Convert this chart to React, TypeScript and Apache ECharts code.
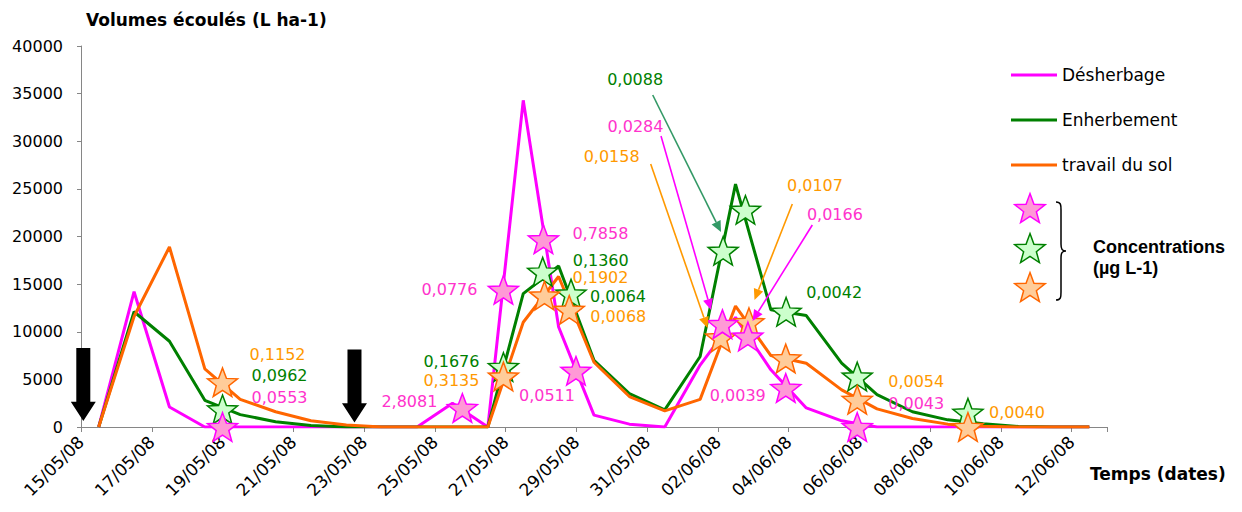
import React, { useEffect, useRef } from 'react';
import * as echarts from 'echarts';

// ---------- DATA ----------
const dates = [
  '15/05/08', '16/05/08', '17/05/08', '18/05/08', '19/05/08', '20/05/08', '21/05/08', '22/05/08',
  '23/05/08', '24/05/08', '25/05/08', '26/05/08', '27/05/08', '28/05/08', '29/05/08', '30/05/08',
  '31/05/08', '01/06/08', '02/06/08', '03/06/08', '04/06/08', '05/06/08', '06/06/08', '07/06/08',
  '08/06/08', '09/06/08', '10/06/08', '11/06/08', '12/06/08',
];

// Volumes écoulés (L ha-1), one value per day
const desherbage = [0, 14200, 2100, 0, 0, 0, 0, 0, 0, 0, 2500, 0, 34300, 10500, 1250, 300, 0, 6500, 11500, 6000, 2000, 650, 0, 0, 0, 0, 0, 0, 0];
const enherbement = [0, 12100, 9000, 2800, 1300, 550, 150, 0, 0, 0, 0, 0, 14000, 16900, 7000, 3500, 1800, 7400, 25500, 12300, 11700, 6700, 3400, 1600, 750, 350, 50, 0, 0];
const travailDuSol = [0, 11600, 18900, 6100, 2900, 1600, 650, 200, 0, 0, 0, 0, 11000, 15800, 6800, 3200, 1700, 2900, 12700, 7500, 6700, 3900, 1900, 900, 300, 80, 0, 0, 0];

// Samples: time in days since 15/05/08 00:00, volume at sampling, concentration (µg L-1)
const desherbageSampleDays = [4.0, 10.78, 11.94, 13.07, 13.99, 18.13, 18.85, 19.92, 21.94];
const desherbageSampleVolumes = [0, 2000, 14400, 19700, 5900, 10800, 9500, 4100, 0];
const desherbageConc = ['0,0553', '2,8081', '0,0776', '0,7858', '0,0511', '0,0284', '0,0166', '0,0039', '0,0043'];

const enherbementSampleDays = [4.0, 11.94, 13.05, 13.85, 18.15, 18.78, 19.93, 21.94, 25.07];
const enherbementSampleVolumes = [1850, 6300, 16300, 14000, 18500, 22800, 12100, 5300, 1500];
const enherbementConc = ['0,0962', '0,1676', '0,1360', '0,0064', '0,0088', '', '0,0042', '', ''];

const travailSampleDays = [4.0, 11.94, 13.1, 13.8, 18.08, 18.88, 19.92, 21.94, 25.07];
const travailSampleVolumes = [4700, 5300, 13800, 12300, 9400, 11000, 7200, 2850, 0];
const travailConc = ['0,1152', '0,3135', '0,1902', '0,0068', '0,0158', '0,0107', '', '0,0054', '0,0040'];

// Treatment dates (days since 15/05/08 00:00)
const treatmentDays = [0.065, 7.73];
const treatmentMarkerLevel = [4450, 4300];

// ---------- LAYOUT / STYLE ----------
const desherbageLabelOffsets = [[57, -30], [-53, -6], [-54, 0], [57, -6], [-29, 25], [-87, -198], [87, -122], [-48, 8], [59, -24]];
const enherbementLabelOffsets = [[57, -34], [-52, -5], [58, -11], [47, 3], [-88, -171], [0, 0], [48, -19], [0, 0], [0, 0]];
const travailLabelOffsets = [[55, -28], [-52, 4], [56, -18], [49, 7], [-109, -181], [66, -137], [0, 0], [59, -18], [49, -15]];

const annotationArrows = [
  { from: [652.7, 95], to: [721, 232], color: '#339966' },
  { from: [661, 136], to: [711, 310], color: '#FF00FF' },
  { from: [650.7, 164], to: [707.5, 328], color: '#FF9900' },
  { from: [792.3, 204], to: [754.5, 300], color: '#FF9900' },
  { from: [812.3, 225], to: [752.5, 321], color: '#FF00FF' },
];

const STAR = 'path://M50,0L62.34,33.01L97.55,34.55L69.97,56.49L79.39,90.45L50,71L20.61,90.45L30.03,56.49L2.45,34.55L37.66,33.01Z';
const ARROW = 'path://M5.5,0H19.5V53H25L12.5,72L0,53H5.5Z';
const FONT = 'DejaVu Sans';

const MAG = '#FF00FF';
const GRN = '#008000';
const ORG = '#FF6600';

function starPoints(cx: number, cy: number, R: number, r: number) {
  const pts: number[][] = [];
  for (let k = 0; k < 10; k++) {
    const a = (k * Math.PI) / 5;
    const rad = k % 2 === 0 ? R : r;
    pts.push([cx + rad * Math.sin(a), cy - rad * Math.cos(a) + R * 0.1]);
  }
  return pts;
}

function arrowGraphics() {
  const els: any[] = [];
  annotationArrows.forEach((a) => {
    const [x1, y1] = a.from;
    const [x2, y2] = a.to;
    const dx = x2 - x1, dy = y2 - y1;
    const len = Math.sqrt(dx * dx + dy * dy);
    const ux = dx / len, uy = dy / len;
    const L = 11, W = 5;
    const bx = x2 - ux * L, by = y2 - uy * L;
    els.push({
      type: 'line', silent: true, z: 20,
      shape: { x1, y1, x2: bx, y2: by },
      style: { stroke: a.color, lineWidth: 1.6 },
    });
    els.push({
      type: 'polygon', silent: true, z: 20,
      shape: { points: [[x2, y2], [bx - uy * W, by + ux * W], [bx + uy * W, by - ux * W]] },
      style: { fill: a.color },
    });
  });
  return els;
}

function starSeries(name: string, days: number[], vols: number[], conc: string[], offsets: number[][], fill: string, stroke: string, labelColor: string, z: number) {
  return {
    name,
    type: 'scatter',
    xAxisIndex: 1,
    yAxisIndex: 0,
    symbol: STAR,
    symbolSize: 30,
    symbolKeepAspect: true,
    silent: true,
    z,
    itemStyle: { color: fill, borderColor: stroke, borderWidth: 1.5, opacity: 1 },
    label: {
      show: true,
      position: 'inside',
      color: labelColor,
      fontFamily: FONT,
      fontSize: 16,
      formatter: (p: any) => conc[p.dataIndex],
    },
    data: days.map((d, i) => ({
      value: [d, vols[i]],
      label: { show: conc[i] !== '', offset: offsets[i] },
    })),
  };
}

export default function App() {
  const ref = useRef<HTMLDivElement>(null);
  useEffect(() => {
    if (!ref.current) return;
    echarts.graphic.registerShape(
      'brace',
      echarts.graphic.extendPath('M0,0 C5,0 5,3 5,8 L5,42 C5,47 6,49 10,49 C6,49 5,51 5,56 L5,90 C5,95 5,98 0,98', {})
    );
    const chart = echarts.init(ref.current, undefined, { renderer: 'svg' });
    const axisColor = '#868686';
    const option: any = {
      animation: false,
      backgroundColor: '#ffffff',
      grid: { left: 81, right: 135, top: 46, bottom: 85, containLabel: false },
      legend: {
        orient: 'vertical',
        left: 1006,
        top: 60,
        itemWidth: 46,
        itemHeight: 3,
        itemGap: 25,
        icon: 'rect',
        selectedMode: false,
        textStyle: { fontFamily: FONT, fontSize: 17, color: '#000', lineHeight: 20 },
        data: ['Désherbage', 'Enherbement', 'travail du sol'],
      },
      xAxis: [
        {
          type: 'category',
          position: 'bottom',
          data: dates,
          boundaryGap: true,
          axisLine: { show: true, lineStyle: { color: axisColor, width: 1 } },
          axisTick: { show: true, interval: 1, length: 5, lineStyle: { color: axisColor } },
          axisLabel: { show: false },
          splitLine: { show: false },
        },
        {
          type: 'value',
          position: 'bottom',
          min: 0,
          max: dates.length,
          interval: 2,
          axisLine: { show: false },
          axisTick: { show: false },
          splitLine: { show: false },
          axisLabel: {
            show: true,
            rotate: 45,
            margin: 12,
            fontFamily: FONT,
            fontSize: 17,
            color: '#000',
            showMaxLabel: false,
            formatter: (v: number) => (Number.isInteger(v) && v % 2 === 0 && dates[v] ? dates[v] : ''),
          },
        },
      ],
      yAxis: {
        type: 'value',
        min: 0,
        max: 40000,
        interval: 5000,
        axisLine: { show: true, lineStyle: { color: axisColor, width: 1 } },
        axisTick: { show: true, length: 4, lineStyle: { color: axisColor } },
        splitLine: { show: false },
        axisLabel: { margin: 18, fontFamily: FONT, fontSize: 16, color: '#000', formatter: (v: number) => String(v) },
      },
      series: [
        {
          name: 'Désherbage', type: 'line', xAxisIndex: 0, data: desherbage, symbol: 'none', z: 2, silent: true,
          color: MAG, lineStyle: { color: MAG, width: 3 }, itemStyle: { color: MAG },
        },
        {
          name: 'Enherbement', type: 'line', xAxisIndex: 0, data: enherbement, symbol: 'none', z: 2, silent: true,
          color: GRN, lineStyle: { color: GRN, width: 3 }, itemStyle: { color: GRN },
        },
        {
          name: 'travail du sol', type: 'line', xAxisIndex: 0, data: travailDuSol, symbol: 'none', z: 2, silent: true,
          color: ORG, lineStyle: { color: ORG, width: 3 }, itemStyle: { color: ORG },
        },
        starSeries('Enherbement (conc.)', enherbementSampleDays, enherbementSampleVolumes, enherbementConc, enherbementLabelOffsets, '#CCFFCC', GRN, GRN, 3),
        starSeries('travail du sol (conc.)', travailSampleDays, travailSampleVolumes, travailConc, travailLabelOffsets, '#FFCC99', ORG, '#FF9900', 4),
        starSeries('Désherbage (conc.)', desherbageSampleDays, desherbageSampleVolumes, desherbageConc, desherbageLabelOffsets, '#FF99D6', MAG, '#FF33CC', 5),
        {
          name: 'Traitements', type: 'scatter', xAxisIndex: 1, yAxisIndex: 0, silent: true, z: 6,
          symbol: ARROW, symbolSize: [25, 73], symbolKeepAspect: false,
          itemStyle: { color: '#000000', opacity: 1 },
          data: treatmentDays.map((d, i) => [d, treatmentMarkerLevel[i]]),
        },
      ],
      graphic: [
        {
          type: 'text', x: 86, y: 20, silent: true,
          style: { text: 'Volumes écoulés (L ha-1)', fill: '#000', font: `bold 17px "${FONT}"`, align: 'left', verticalAlign: 'middle' },
        },
        {
          type: 'text', x: 1090, y: 474, silent: true,
          style: { text: 'Temps (dates)', fill: '#000', font: `bold 17px "${FONT}"`, align: 'left', verticalAlign: 'middle' },
        },
        {
          type: 'polygon', silent: true, shape: { points: starPoints(1030, 208, 16, 6.7) },
          style: { fill: '#FF99D6', stroke: MAG, lineWidth: 1.5 },
        },
        {
          type: 'polygon', silent: true, shape: { points: starPoints(1030, 248, 16, 6.7) },
          style: { fill: '#CCFFCC', stroke: GRN, lineWidth: 1.5 },
        },
        {
          type: 'polygon', silent: true, shape: { points: starPoints(1030, 287, 16, 6.7) },
          style: { fill: '#FFCC99', stroke: ORG, lineWidth: 1.5 },
        },
        {
          type: 'brace', x: 1056, y: 202, silent: true,
          style: { stroke: '#000', fill: 'none', lineWidth: 1.5 },
        },
        {
          type: 'text', x: 1093, y: 247, silent: true,
          style: { text: 'Concentrations', fill: '#000', font: 'bold 18px "Liberation Sans"', align: 'left', verticalAlign: 'middle' },
        },
        {
          type: 'text', x: 1093, y: 268, silent: true,
          style: { text: '(µg L-1)', fill: '#000', font: 'bold 18px "Liberation Sans"', align: 'left', verticalAlign: 'middle' },
        },
        ...arrowGraphics(),
      ],
    };
    chart.setOption(option);
    return () => chart.dispose();
  }, []);
  return <div ref={ref} style={{ position: 'fixed', left: 0, top: 0, width: 1242, height: 512, background: '#fff' }} />;
}
